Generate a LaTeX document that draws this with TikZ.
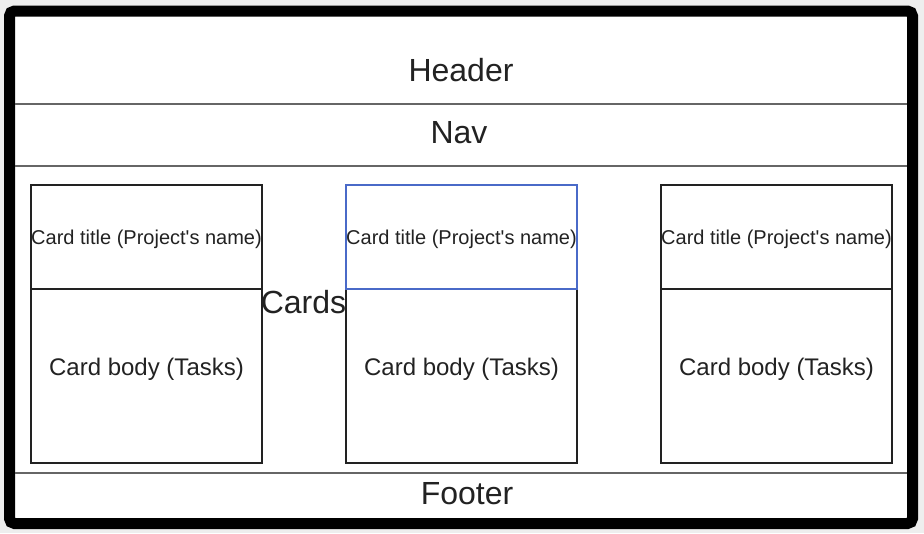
\documentclass[tikz,border=0pt]{standalone}
\usepackage{fontspec}
\setmainfont{Liberation Sans}
\usepackage{xcolor}
\usetikzlibrary{positioning}

\definecolor{pagegray}{HTML}{EEEEEE}
\definecolor{inkdark}{HTML}{222222}
\definecolor{rulegray}{HTML}{666666}
\definecolor{selblue}{HTML}{4A6AC8}

\begin{document}
\begin{tikzpicture}[x=1pt, y=-1pt, node distance=0pt]
		% Define styles for the layout parts
		\tikzstyle{bigtext} = [text=inkdark, font=\fontsize{32}{38}\selectfont, inner sep=0pt]
		\tikzstyle{cardtitle} = [rectangle, draw=inkdark, line width=1.2pt, fill=white, minimum width=231pt, minimum height=104pt, inner sep=0pt, outer sep=0pt, text=inkdark, text height=18.5pt, text depth=4pt, font=\fontsize{20}{24}\selectfont]
		\tikzstyle{cardbody} = [rectangle, draw=inkdark, line width=1.2pt, fill=white, minimum width=231pt, minimum height=174pt, inner sep=0pt, outer sep=0pt, text=inkdark, text depth=19pt, font=\fontsize{24}{28}\selectfont]
		\tikzstyle{divider} = [draw=rulegray, line width=1.2pt]

		% Page and outer frame
		\fill[pagegray] (0,0) rectangle (924,533);
		\useasboundingbox (0,0) rectangle (924,533);
		\draw[line width=11pt, rounded corners=5pt, fill=white] (9.5,11) rectangle (912.5,523.5);

		% Define the dividers between the sections
		\coordinate (hl) at (15,104);  \coordinate (hr) at (907,104);
		\coordinate (nl) at (15,166);  \coordinate (nr) at (907,166);
		\coordinate (fl) at (15,473);  \coordinate (fr) at (907,473);
		\draw [divider] (hl) -- (hr);
		\draw [divider] (nl) -- (nr);
		\draw [divider] (fl) -- (fr);

		% Define the section labels
		\node (header) [bigtext] at (461,70) {Header};
		\node (nav) [bigtext] at (459,133) {Nav};
		\node (cards) [bigtext] at (303.5,302) {Cards};
		\node (footer) [bigtext] at (467,494) {Footer};

		% Define the cards (body first, title on top)
		\node (bodyA) [cardbody] at (146.5,376) {Card body (Tasks)};
		\node (titleA) [cardtitle, above=of bodyA] {Card title (Project\textquotesingle s name)};
		\node (bodyB) [cardbody] at (461.5,376) {Card body (Tasks)};
		\node (titleB) [cardtitle, draw=selblue, above=of bodyB] {Card title (Project\textquotesingle s name)};
		\node (bodyC) [cardbody] at (776.5,376) {Card body (Tasks)};
		\node (titleC) [cardtitle, above=of bodyC] {Card title (Project\textquotesingle s name)};
	\end{tikzpicture}
\end{document}
